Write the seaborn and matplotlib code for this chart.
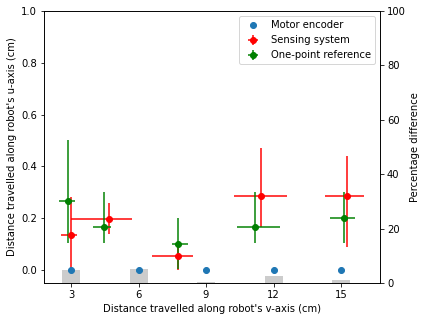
import numpy as np
import matplotlib
matplotlib.use("Agg")
import matplotlib.pyplot as plt
import seaborn as sns

# distance along v-axis (cm)
v_ticks = [3, 6, 9, 12, 15]

# motor encoder
motor_x = [3, 6, 9, 12, 15]
motor_y = [0.0, 0.0, 0.0, 0.0, 0.0]

# sensing system
sens_x = [3.0, 4.70, 7.77, 11.44, 15.27]
sens_y = [0.134, 0.197, 0.054, 0.286, 0.286]
sens_xerr_lo = [0.44, 1.70, 1.16, 1.20, 0.98]
sens_xerr_hi = [0.25, 1.00, 0.67, 1.16, 0.73]
sens_yerr_lo = [0.134, 0.057, 0.052, 0.119, 0.196]
sens_yerr_hi = [0.149, 0.062, 0.052, 0.184, 0.154]

# one-point reference
ref_x = [2.88, 4.48, 7.77, 11.18, 15.13]
ref_y = [0.266, 0.165, 0.099, 0.165, 0.200]
ref_xerr_lo = [0.41, 0.49, 0.27, 0.80, 0.62]
ref_xerr_hi = [0.28, 0.30, 0.41, 1.11, 0.49]
ref_yerr_lo = [0.163, 0.061, 0.096, 0.062, 0.097]
ref_yerr_hi = [0.236, 0.135, 0.101, 0.135, 0.100]

# percentage difference (bars, right axis)
pct_x = [3, 6, 9, 12, 15]
pct_diff = [4.8, 5.1, 0.5, 2.4, 1.2]

plt.rcParams['font.family'] = ['DejaVu Sans']
plt.rcParams['font.size'] = 10

fig = plt.figure(figsize=(426 / 72, 321 / 72), dpi=72)
ax = fig.add_axes([0.1033, 0.1184, 0.7887, 0.8473])
ax2 = ax.twinx()

ax2.bar(pct_x, pct_diff, width=0.8, color='0.8')
ax2.set_ylim(0, 100)
ax2.set_ylabel("Percentage difference")

sns.scatterplot(x=motor_x, y=motor_y, ax=ax, color='#1f77b4', s=36,
                linewidth=1, edgecolor='#1f77b4', label='Motor encoder', zorder=3)

ax.errorbar(sens_x, sens_y,
            xerr=[sens_xerr_lo, sens_xerr_hi],
            yerr=[sens_yerr_lo, sens_yerr_hi],
            fmt='o', color='red', ms=6, ecolor=(1, 0, 0, 0.75), elinewidth=2,
            label='Sensing system')
ax.errorbar(ref_x, ref_y,
            xerr=[ref_xerr_lo, ref_xerr_hi],
            yerr=[ref_yerr_lo, ref_yerr_hi],
            fmt='o', color='green', ms=6, ecolor=(0, 0.5, 0, 0.75), elinewidth=2,
            label='One-point reference')

ax.set_zorder(ax2.get_zorder() + 1)
ax.patch.set_visible(False)

ax.set_xlim(1.8, 16.73)
ax.set_ylim(-0.05, 1.0)
ax.set_xticks(v_ticks)
ax.set_xlabel("Distance travelled along robot's v-axis (cm)")
ax.set_ylabel("Distance travelled along robot's u-axis (cm)")
ax.legend(loc='upper right')

fig.savefig("out.png", dpi=72)
